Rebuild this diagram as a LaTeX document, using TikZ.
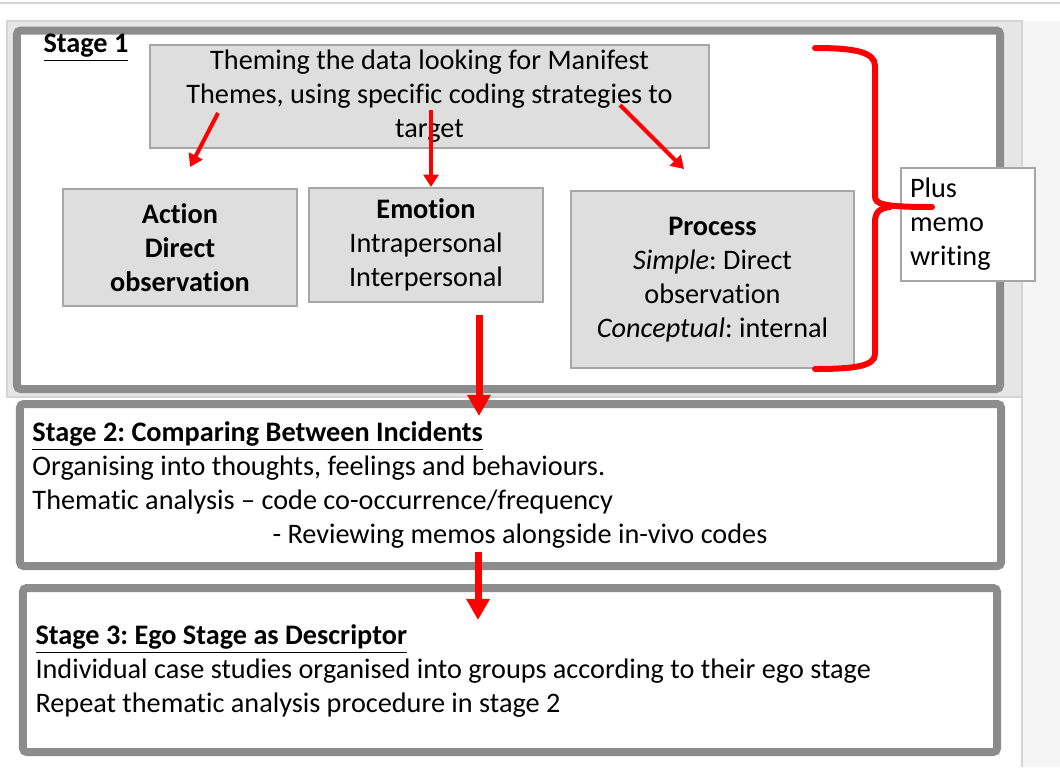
\documentclass[tikz,border=0pt]{standalone}
\usepackage{fontspec}
\setmainfont[Ligatures={TeX,NoCommon}]{Carlito}
\usetikzlibrary{arrows.meta}
\usetikzlibrary{calc}

\definecolor{stagegrey}{HTML}{8C8C8C}
\definecolor{boxgrey}{HTML}{A6A6A6}
\definecolor{boxfill}{HTML}{DEDEDE}
\definecolor{pagegrey}{HTML}{E6E6E6}
\definecolor{pageline}{HTML}{D4D4D4}

\begin{document}
\begin{tikzpicture}[x=0.4pt, y=-0.4pt,
		stage/.style = {draw=stagegrey, fill=white, line width=3.2pt, rounded corners=1.5pt, inner sep=0pt, outer sep=0pt},
		theme/.style = {draw=boxgrey, fill=boxfill, line width=0.6pt, align=center, inner sep=0pt, outer sep=0pt},
		memo/.style = {draw=boxgrey, fill=white, line width=0.6pt, align=left, inner xsep=3.6pt, inner ysep=0pt, outer sep=0pt},
		stagetext/.style = {align=left, inner sep=0pt, anchor=west},
		flow/.style = {red, line width=1.6pt, -{Triangle[width=6pt,length=5pt]}},
		bigflow/.style = {red, line width=2.8pt, -{Triangle[width=9pt,length=8.5pt]}},
		brace/.style = {red, line width=2.4pt, line cap=round},
		font=\fontsize{11.3}{13.6}\selectfont\frenchspacing
			]
		% page
		\useasboundingbox (0,0) rectangle (1060,767);
		\fill[white] (0,0) rectangle (1060,767);
		\draw[pageline, line width=0.6pt] (0,3) -- (1060,3);
		\fill[pagegrey!40] (1022,21) rectangle (1060,767);
		\filldraw[fill=pagegrey, draw=pageline, line width=0.6pt] (7,21) rectangle (1022,397);
		\draw[pageline, line width=0.8pt] (1022,397) -- (1022,767);

		% stages
		\node[stage, minimum width=393.2pt, minimum height=143.4pt] (Stage1) at (508.5,209.75) {};
		\node[stage, minimum width=392.4pt, minimum height=64.8pt] (Stage2) at (510.5,485) {};
		\node[stage, minimum width=389.6pt, minimum height=65.6pt] (Stage3) at (510,670) {};

		\node[anchor=west, inner sep=0pt] (Stage1Title) at (43,48) {\underline{\textbf{Stage 1}}};

		\node[theme, minimum width=223.6pt, minimum height=41.2pt] (Theming) at (429.5,96.5) {Theming the data looking for Manifest\\Themes, using specific coding strategies to\\target};
		\node[theme, minimum width=93.6pt, minimum height=46.8pt] (Action) at (180,247.5) {\textbf{Action}\\\textbf{Direct}\\\textbf{observation}};
		\node[theme, minimum width=93.6pt, minimum height=45.6pt] (Emotion) at (426,245) {\textbf{Emotion}\\Intrapersonal\\Interpersonal};
		\node[theme, minimum width=113.2pt, minimum height=70.8pt] (Process) at (712.5,279.5) {\textbf{Process}\\\textit{Simple}: Direct\\observation\\\textit{Conceptual}: internal};
		\node[memo, text width=46.4pt, minimum height=45.2pt] (Memo) at (968,224.5) {Plus\\memo\\writing};

		\draw[brace] (815,48) .. controls (855,48) and (875,52) .. (875,66) -- (875,196) .. controls (875,204) and (882,207) .. (932,207);
		\draw[brace] (890,207) .. controls (880,208) and (875,212) .. (875,222) -- (875,354) .. controls (875,366) and (855,369) .. (815,369);

		\node[stagetext] (Stage2Text) at (32,485) {\underline{\textbf{Stage 2: Comparing Between Incidents}}\\Organising into thoughts, feelings and behaviours.\\Thematic analysis – code co-occurrence/frequency\\\hspace{96pt}- Reviewing memos alongside in-vivo codes};
		\node[stagetext] (Stage3Text) at (35,671) {\underline{\textbf{Stage 3: Ego Stage as Descriptor}}\\Individual case studies organised into groups according to their ego stage\\Repeat thematic analysis procedure in stage 2};

		% arrows
		\draw[flow] ($(Theming.south west)+(68,-35)$) -- ($(Action.north)+(10,-22)$);
		\draw[flow] ($(Theming.south)+(1.5,-38)$) -- ($(Emotion.north)+(5,-1)$);
		\draw[flow] ($(Theming.south east)+(-89,-43)$) -- ($(Process.north)+(-28.5,-22)$);
		\draw[bigflow] ($(Stage1.south)+(-29.5,-74)$) -- ($(Stage2.north)+(-31.5,12)$);
		\draw[bigflow] ($(Stage2.south)+(-32.5,-14)$) -- ($(Stage3.north)+(-32,32)$);

	\end{tikzpicture}
\end{document}
